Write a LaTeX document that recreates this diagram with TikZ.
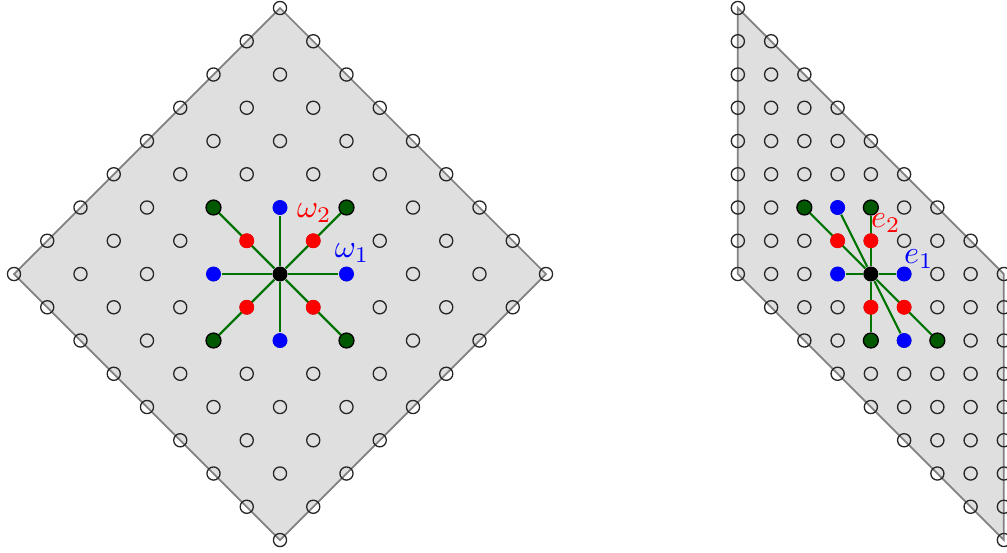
\documentclass[tikz,border=0pt]{standalone}
\usetikzlibrary{backgrounds}
\begin{document}
\begin{tikzpicture}[x=0.4cm,y=0.4cm,
  region/.style={fill=gray!25, draw=gray, line width=0.6pt},
  opendot/.style={circle, draw=black!85, line width=0.45pt, inner sep=0pt, minimum size=4.5pt},
  dotbase/.style={circle, inner sep=0pt, minimum size=5.1pt},
  bdot/.style={dotbase, fill=blue},
  rdot/.style={dotbase, fill=red},
  gdot/.style={dotbase, fill=green!35!black, draw=black, line width=0.45pt},
  cdot/.style={dotbase, fill=black},
  spoke/.style={draw=green!45!black, line width=0.75pt},
  lab/.style={inner sep=0pt, scale=1.1}]
\useasboundingbox (-8.421,-8.361) rectangle (21.865,8.241);
% ---------- left: colored points
\node[cdot] (Lc) at (0,0) {};
\node[bdot] (Lb1) at (2,0) {};
\node[bdot] (Lb2) at (0,2) {};
\node[bdot] (Lb3) at (-2,0) {};
\node[bdot] (Lb4) at (0,-2) {};
\node[rdot] (Lr1) at (1,1) {};
\node[rdot] (Lr2) at (-1,1) {};
\node[rdot] (Lr3) at (-1,-1) {};
\node[rdot] (Lr4) at (1,-1) {};
\node[gdot] (Lg1) at (2,2) {};
\node[gdot] (Lg2) at (-2,2) {};
\node[gdot] (Lg3) at (-2,-2) {};
\node[gdot] (Lg4) at (2,-2) {};
\node[lab, text=red] (w2) at (1.03,1.83) {$\omega_2$};
\node[lab, text=blue] (w1) at (2.17,0.63) {$\omega_1$};
% ---------- right: colored points
\begin{scope}[xshift=17.77*0.4cm]
\node[cdot] (Rc) at (0,0) {};
\node[bdot] (Rb1) at (1,0) {};
\node[bdot] (Rb2) at (-1,2) {};
\node[bdot] (Rb3) at (-1,0) {};
\node[bdot] (Rb4) at (1,-2) {};
\node[rdot] (Rr1) at (0,1) {};
\node[rdot] (Rr2) at (-1,1) {};
\node[rdot] (Rr3) at (0,-1) {};
\node[rdot] (Rr4) at (1,-1) {};
\node[gdot] (Rg1) at (0,2) {};
\node[gdot] (Rg2) at (-2,2) {};
\node[gdot] (Rg3) at (0,-2) {};
\node[gdot] (Rg4) at (2,-2) {};
\node[lab, text=red] (e2) at (0.45,1.53) {$e_2$};
\node[lab, text=blue] (e1) at (1.44,0.45) {$e_1$};
\end{scope}
% ---------- background: regions, lattice, spokes
\begin{scope}[on background layer]
\path[region] (0,8) -- (8,0) -- (0,-8) -- (-8,0) -- cycle;
\foreach \i in {-8,...,8}{
  \foreach \j in {-8,...,8}{
    \pgfmathtruncatemacro\s{abs(\i)+abs(\j)}
    \pgfmathtruncatemacro\p{mod(abs(\i+\j),2)}
    \ifnum\s<9 \ifnum\p=0
      \node[opendot] (L\i x\j) at (\i,\j) {};
    \fi\fi
  }
}
\begin{scope}[xshift=17.77*0.4cm]
\path[region] (-4,0) -- (-4,8) -- (4,0) -- (4,-8) -- cycle;
\foreach \i in {-4,...,4}{
  \foreach \j in {-8,...,8}{
    \pgfmathtruncatemacro\s{abs(\i+\j)}
    \ifnum\s<5
      \node[opendot] (R\i x\j) at (\i,\j) {};
    \fi
  }
}
\end{scope}
\foreach \n in {Lb1,Lb2,Lb3,Lb4,Lg1,Lg2,Lg3,Lg4}{ \draw[spoke] (Lc) -- (\n); }
\foreach \n in {Rb1,Rb2,Rb3,Rb4,Rg1,Rg2,Rg3,Rg4}{ \draw[spoke] (Rc) -- (\n); }
\end{scope}
\end{tikzpicture}
\end{document}
